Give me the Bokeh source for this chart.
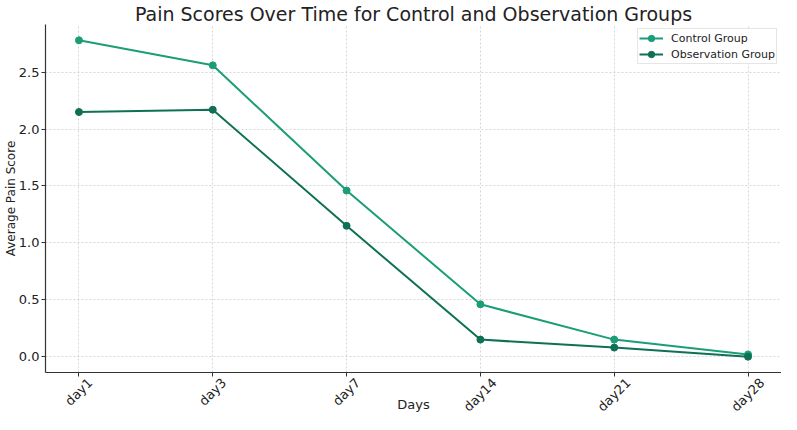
import math
from bokeh.plotting import figure
from bokeh.models import Legend, LegendItem, FixedTicker, Range1d
from bokeh.embed import file_html
from bokeh.resources import INLINE

days = ["day1", "day3", "day7", "day14", "day21", "day28"]
control = [2.78, 2.56, 1.46, 0.46, 0.15, 0.02]
observation = [2.15, 2.17, 1.15, 0.15, 0.08, 0.0]

c_color = "#1b9e77"
o_color = "#0e7155"
FONT = "DejaVu Sans"

xs = list(range(len(days)))
x_lo, x_hi = -0.25, len(days) - 0.75
y_lo, y_hi = -0.139, 2.919

W, H = 781, 414
p = figure(width=W, height=H, output_backend="svg", toolbar_location=None,
           x_range=Range1d(x_lo, x_hi), y_range=Range1d(y_lo, y_hi),
           min_border_left=0, min_border_right=0, min_border_top=0, min_border_bottom=0)

p.title.text = "Pain Scores Over Time for Control and Observation Groups"
p.title.align = "center"
p.title.text_font = FONT
p.title.text_font_size = "19px"
p.title.text_font_style = "normal"
p.title.text_color = "#222222"
p.title.standoff = 0
p.title.offset = 0

r1 = p.line(xs, control, line_color=c_color, line_width=2)
s1 = p.scatter(xs, control, size=7, fill_color=c_color, line_color=c_color)
r2 = p.line(xs, observation, line_color=o_color, line_width=2)
s2 = p.scatter(xs, observation, size=7, fill_color=o_color, line_color=o_color)

legend = Legend(items=[LegendItem(label="Control Group", renderers=[r1, s1]),
                       LegendItem(label="Observation Group", renderers=[r2, s2])],
                location="top_right")
legend.label_text_font = FONT
legend.label_text_font_size = "11px"
legend.label_text_color = "#222222"
legend.border_line_color = "#cccccc"
legend.border_line_width = 1
legend.padding = 1
legend.spacing = 0
legend.margin = 4
legend.glyph_width = 24
legend.glyph_height = 16
legend.label_height = 16
legend.label_standoff = 8
p.add_layout(legend)

# x axis: tick marks at the days (minor ticks), labels centred under each tick
CW = {"d": 0.635, "a": 0.613, "y": 0.592}
LABEL_PX = 13
px_per_unit = (W - 36) / (x_hi - x_lo)
shifted = []
for i, d in enumerate(days):
    w = sum(CW.get(ch, 0.636) for ch in d) * LABEL_PX
    shifted.append(round(xs[i] + (w / 2) * math.cos(math.pi / 4) / px_per_unit, 4))

xax = p.xaxis[0]
xax.ticker = FixedTicker(ticks=shifted, minor_ticks=xs)
xax.major_label_overrides = {s: d for s, d in zip(shifted, days)}
xax.major_label_orientation = math.pi / 4
xax.major_tick_line_color = None
xax.major_tick_in = 0
xax.major_tick_out = 4
xax.minor_tick_line_color = "#333333"
xax.minor_tick_in = 0
xax.minor_tick_out = 4
xax.axis_label = "Days"
xax.axis_label_text_font_size = "13px"
xax.major_label_standoff = 4
xax.axis_label_standoff = -26

yax = p.yaxis[0]
yax.ticker = FixedTicker(ticks=[0.0, 0.5, 1.0, 1.5, 2.0, 2.5])
yax.major_label_overrides = {0.0: "0.0", 0.5: "0.5", 1.0: "1.0", 1.5: "1.5", 2.0: "2.0", 2.5: "2.5"}
yax.axis_label = "Average Pain Score"
yax.axis_label_text_font_size = "12px"
yax.axis_label_standoff = -2
yax.major_label_standoff = 2
yax.major_tick_line_color = "#333333"
yax.major_tick_in = 0
yax.major_tick_out = 4
yax.minor_tick_line_color = None

for ax in (xax, yax):
    ax.axis_label_text_font = FONT
    ax.axis_label_text_font_style = "normal"
    ax.axis_label_text_color = "#222222"
    ax.major_label_text_font = FONT
    ax.major_label_text_font_size = "13px"
    ax.major_label_text_color = "#222222"
    ax.axis_line_color = "#333333"
    ax.axis_line_width = 1.2

p.outline_line_color = None
for g in (p.xgrid, p.ygrid):
    g.grid_line_color = "#cccccc"
    g.grid_line_dash = "2 2"
    g.grid_line_width = 0.8
p.xgrid.ticker = FixedTicker(ticks=xs)

open("out.html", "w").write(file_html(p, INLINE))
